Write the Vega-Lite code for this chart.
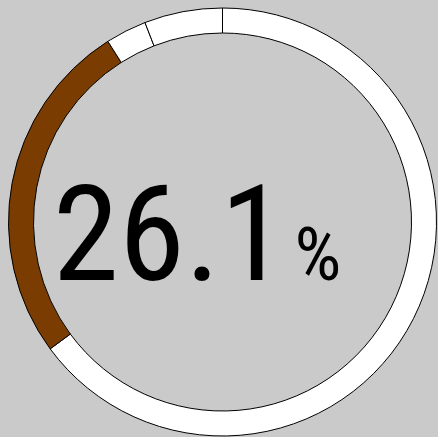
{
  "$schema": "https://vega.github.io/schema/vega-lite/v6.json",
  "width": 438,
  "height": 437,
  "autosize": {"type": "fit", "contains": "padding"},
  "padding": {"left": 7, "top": 7, "right": 0, "bottom": 0},
  "background": "#c9cac9",
  "config": {"view": {"stroke": null}},
  "layer": [
    {
      "data": {
        "values": [
          {"segment": "A", "value": 64.9, "rank": 1},
          {"segment": "B", "value": 26.1, "rank": 2},
          {"segment": "C", "value": 3.1, "rank": 3},
          {"segment": "D", "value": 5.9, "rank": 4}
        ]
      },
      "mark": {"type": "arc", "outerRadius": 214, "innerRadius": 189, "stroke": "#000000", "strokeWidth": 1},
      "encoding": {
        "theta": {"field": "value", "type": "quantitative", "stack": true},
        "order": {"field": "rank", "type": "quantitative", "sort": "ascending"},
        "color": {
          "field": "segment",
          "type": "nominal",
          "scale": {"domain": ["A", "B", "C", "D"], "range": ["#ffffff", "#7a3c00", "#ffffff", "#ffffff"]},
          "legend": null
        }
      }
    },
    {
      "data": {"values": [{"big": "26.1", "unit": "%"}]},
      "mark": {"type": "text", "font": "Roboto Condensed, DejaVu Sans Condensed, Liberation Sans, sans-serif", "fontSize": 134, "fontWeight": 400, "align": "right", "baseline": "alphabetic", "dx": 64, "dy": 58, "color": "#000000"},
      "encoding": {"text": {"field": "big", "type": "nominal"}}
    },
    {
      "data": {"values": [{"big": "26.1", "unit": "%"}]},
      "mark": {"type": "text", "font": "Roboto Condensed, DejaVu Sans Condensed, Liberation Sans, sans-serif", "fontSize": 74, "fontWeight": 400, "align": "left", "baseline": "alphabetic", "dx": 72, "dy": 58, "color": "#000000"},
      "encoding": {"text": {"field": "unit", "type": "nominal"}}
    }
  ]
}
